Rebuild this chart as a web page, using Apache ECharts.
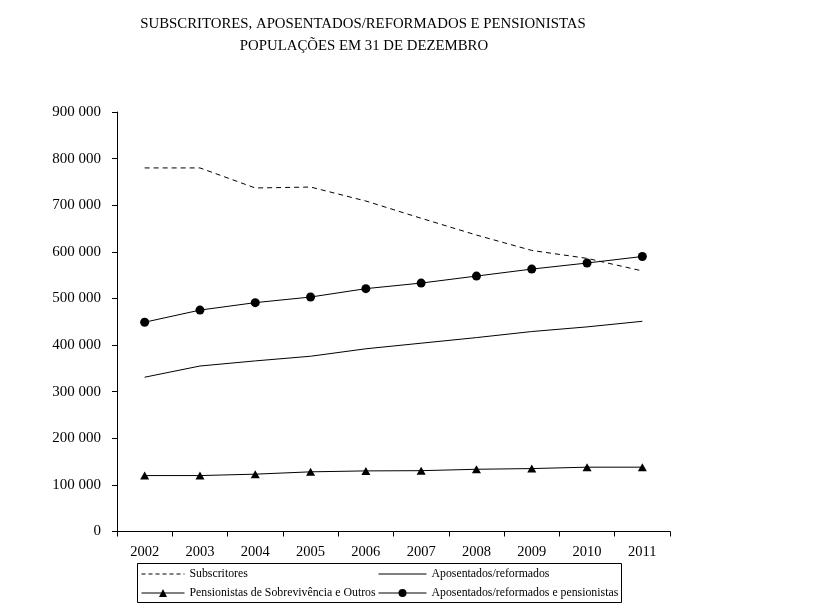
<!DOCTYPE html>
<html>
<head>
<meta charset="utf-8">
<script src="https://cdn.jsdelivr.net/npm/echarts@6/dist/echarts.min.js"></script>
<style>html,body{margin:0;padding:0;background:#fff;}#c{width:819px;height:613px;}</style>
</head>
<body>
<div id="c"></div>
<script>
const years = ['2002','2003','2004','2005','2006','2007','2008','2009','2010','2011'];
const subscritores = [780000, 780000, 737000, 739000, 709000, 672000, 636000, 603000, 586000, 559000];
const aposentados = [331000, 355000, 366000, 376000, 392000, 404000, 416000, 429000, 439000, 451000];
const pensionistas = [120000, 120000, 123000, 128000, 130000, 130500, 133500, 135000, 138000, 138000];
const aposPens = [449000, 475000, 491000, 503000, 521000, 533000, 548000, 563000, 576000, 590000];
const seriesNames = ['Subscritores', 'Aposentados/reformados', 'Pensionistas de Sobrevivência e Outros', 'Aposentados/reformados e pensionistas'];
const titleLines = ['SUBSCRITORES, APOSENTADOS/REFORMADOS E PENSIONISTAS', 'POPULAÇÕES EM 31 DE DEZEMBRO'];

const FONT = '"Liberation Serif", "Times New Roman", serif';
const chart = echarts.init(document.getElementById('c'), null, {renderer: 'canvas'});
const fmt = v => v === 0 ? '0' : String(v).replace(/\B(?=(\d{3})+(?!\d))/g, ' ');
const legendText = {fontFamily: FONT, fontSize: 11.8, color: '#000', lineHeight: 12};
const hidden = {color: 'rgba(0,0,0,0)', opacity: 0, borderWidth: 0};

chart.setOption({
  backgroundColor: '#fff',
  animation: false,
  textStyle: {fontFamily: FONT, color: '#000'},
  graphic: [
    {type: 'text', x: 363, y: 24, style: {text: titleLines[0], fontFamily: FONT, fontSize: 14.8, fill: '#000', textAlign: 'center', textVerticalAlign: 'middle'}},
    {type: 'text', x: 364, y: 46, style: {text: titleLines[1], fontFamily: FONT, fontSize: 14.8, fill: '#000', textAlign: 'center', textVerticalAlign: 'middle'}},
    {type: 'rect', shape: {x: 137.5, y: 563.5, width: 484, height: 39}, style: {fill: 'none', stroke: '#000', lineWidth: 1}, z: 0}
  ],
  legend: [
    {
      data: [
        {name: seriesNames[0], itemStyle: hidden, lineStyle: {width: 1, type: [4, 3]}},
        {name: seriesNames[2], lineStyle: {width: 1}}
      ],
      orient: 'vertical', left: 141, top: 568, padding: 0,
      itemWidth: 43, itemHeight: 10, itemGap: 7,
      textStyle: legendText
    },
    {
      data: [
        {name: seriesNames[1], itemStyle: hidden, lineStyle: {width: 1}},
        {name: seriesNames[3], lineStyle: {width: 1}}
      ],
      orient: 'vertical', left: 378, top: 568, padding: 0,
      itemWidth: 48, itemHeight: 10, itemGap: 7,
      textStyle: legendText
    }
  ],
  grid: {left: 117, right: 149, top: 112, bottom: 81.5, containLabel: false},
  xAxis: {
    type: 'category', data: years, boundaryGap: true,
    axisLine: {lineStyle: {color: '#000', width: 1}},
    axisTick: {show: true, length: 5, lineStyle: {color: '#000'}},
    axisLabel: {color: '#000', fontFamily: FONT, fontSize: 14.5, margin: 13},
    splitLine: {show: false}
  },
  yAxis: {
    type: 'value', min: 0, max: 900000, interval: 100000,
    axisLine: {show: true, lineStyle: {color: '#000', width: 1}},
    axisTick: {show: true, length: 5, lineStyle: {color: '#000'}},
    axisLabel: {color: '#000', fontFamily: FONT, fontSize: 15, margin: 16, formatter: fmt},
    splitLine: {show: false}
  },
  series: [
    {name: seriesNames[0], type: 'line', data: subscritores, showSymbol: false, symbol: 'none',
     lineStyle: {color: '#000', width: 1, type: [5, 4]}, itemStyle: {color: '#000'}},
    {name: seriesNames[1], type: 'line', data: aposentados, showSymbol: false, symbol: 'none',
     lineStyle: {color: '#000', width: 1}, itemStyle: {color: '#000'}},
    {name: seriesNames[2], type: 'line', data: pensionistas, symbol: 'triangle', symbolSize: [9, 8],
     lineStyle: {color: '#000', width: 1}, itemStyle: {color: '#000'}},
    {name: seriesNames[3], type: 'line', data: aposPens, symbol: 'circle', symbolSize: 9,
     lineStyle: {color: '#000', width: 1}, itemStyle: {color: '#000'}}
  ]
});
</script>
</body>
</html>
